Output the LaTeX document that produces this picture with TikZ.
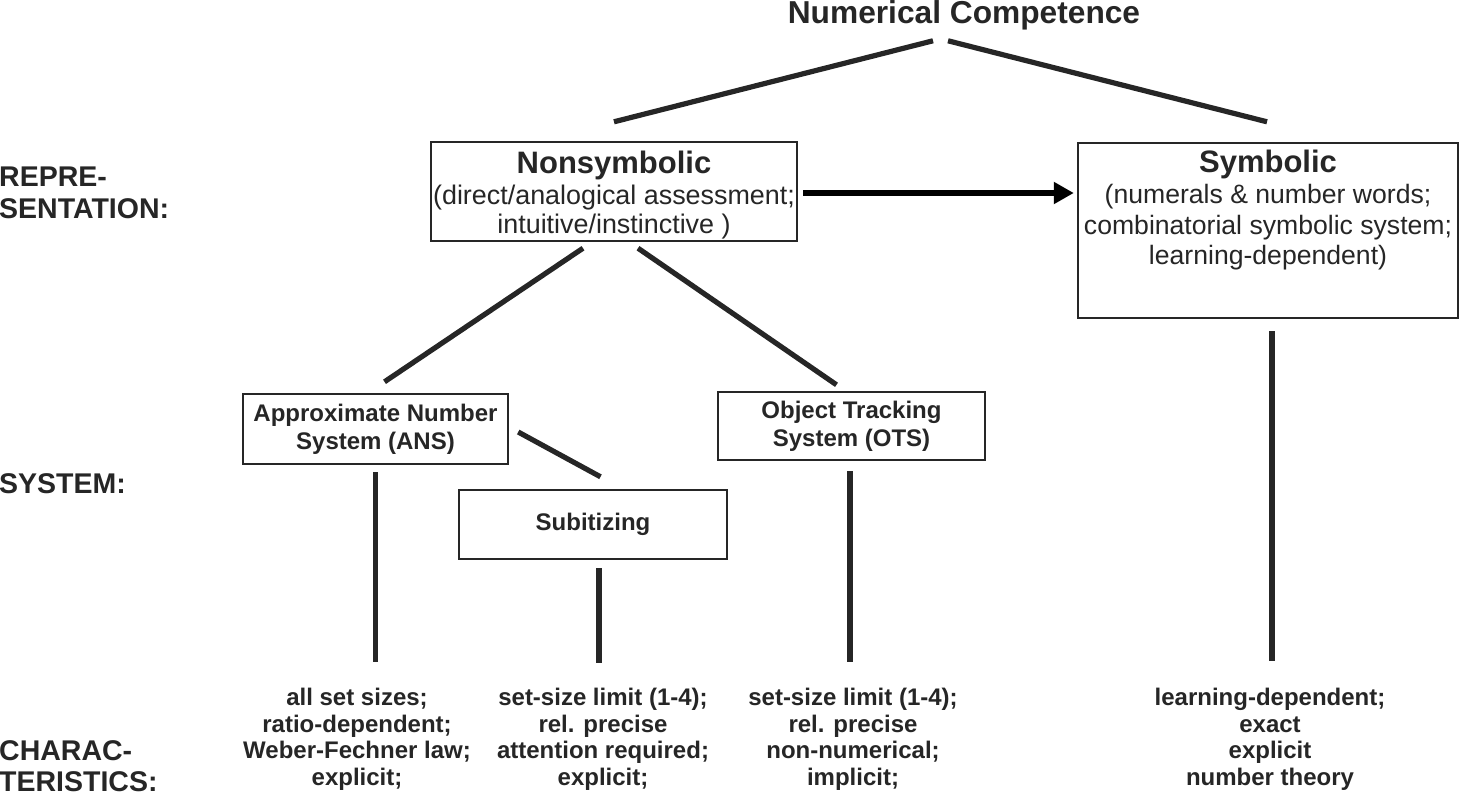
\documentclass[tikz,border=0pt]{standalone}
\usepackage{fontspec}
\setmainfont{Liberation Sans}
\usetikzlibrary{arrows.meta}
\definecolor{ink}{RGB}{38,38,38}
\newcommand\fsz[2]{\fontsize{#1}{#2}\selectfont}

\begin{document}
\begin{tikzpicture}[x=1pt,y=-1pt,
  box/.style={draw=ink,line width=2.4pt,fill=white,inner sep=0pt,align=center,text=ink},
  link/.style={draw=ink,line width=5.2pt},
  flow/.style={draw=black,line width=6.5pt,-{Triangle[length=20pt,width=21pt]}},
  rowlabel/.style={anchor=north west,inner sep=0pt,align=left,text=ink,font=\fsz{28.5}{31.5}\bfseries},
  chars/.style={anchor=north,inner sep=0pt,align=center,text=ink,font=\fsz{24}{26.5}\bfseries}]
\useasboundingbox (0,0) rectangle (1461,792);

% ---- row labels ----
\node[rowlabel] (lrep) at (-1,167) {REPRE-\\SENTATION:};
\node[rowlabel] (lsys) at (-1,473) {SYSTEM:};
\node[rowlabel] (lchar) at (-1,740) {CHARAC-\\TERISTICS:};

% ---- top level ----
\node[anchor=base,inner sep=0pt,text=ink,font=\fsz{31.7}{36}\bfseries] (title) at (964,24) {Numerical Competence};

\node[box,minimum width=366,minimum height=99,font=\fsz{26.9}{28.5}] (nonsym) at (614,191.5)
  {\rule{0pt}{29pt}{\fsz{31}{36}\bfseries Nonsymbolic}\\[3pt](direct/analogical assessment;\\intuitive/instinctive )};

\node[box,minimum width=380,minimum height=175] (sym) at (1268,230.5) {};
\node[anchor=north,inner sep=0pt,align=center,text=ink,font=\fsz{26.6}{30.5}] (symtext) at ([yshift=-8pt]sym.north)
  {{\fsz{31}{36}\bfseries Symbolic}\\[1pt](numerals \& number words;\\combinatorial symbolic system;\\learning-dependent)};

\draw[link] ([xshift=-31pt,yshift=-10pt]title.south) -- ([yshift=19pt]nonsym.north);
\draw[link] ([xshift=-16pt,yshift=-10pt]title.south) -- ([xshift=-1pt,yshift=20pt]sym.north);
\draw[flow,shorten <=5pt,shorten >=3pt] ([yshift=-1.5pt]nonsym.east) -- ([yshift=-1.5pt]nonsym.east -| sym.west);

% ---- systems ----
\node[box,minimum width=265,minimum height=70,font=\fsz{24}{28}\bfseries] (ans) at (375.5,429) {Approximate Number\\System (ANS)};
\node[box,minimum width=268,minimum height=69,font=\fsz{24}{28}\bfseries] (subit) at (593,524.5) {Subitizing};
\node[box,minimum width=267,minimum height=68,font=\fsz{24}{28}\bfseries] (ots) at (851.5,426) {Object Tracking\\System (OTS)};

\draw[link] ([xshift=-31pt,yshift=-6pt]nonsym.south) -- ([xshift=9pt,yshift=11pt]ans.north);
\draw[link] ([xshift=24pt,yshift=-6pt]nonsym.south) -- ([xshift=-15pt,yshift=6pt]ots.north);
\draw[link] ([xshift=9pt,yshift=-3pt]ans.east) -- ([xshift=7.5pt,yshift=12pt]subit.north);

% ---- characteristics ----
\node[chars] (chans) at (357,688) {all set sizes;\\ratio-dependent;\\Weber-Fechner law;\\explicit;};
\node[chars] (chsub) at (603,688) {set-size limit (1-4);\\rel. precise\\attention required;\\explicit;};
\node[chars] (chots) at (853,688) {set-size limit (1-4);\\rel. precise\\non-numerical;\\implicit;};
\node[chars] (chsym) at (1270,688) {learning-dependent;\\exact\\explicit\\number theory};

\draw[link] ([yshift=-7pt]ans.south) -- ([yshift=26pt]ans.south |- chans.north);
\draw[link] ([xshift=6pt,yshift=-8pt]subit.south) -- ([xshift=6pt,yshift=25pt]subit.south |- chsub.north);
\draw[link] ([xshift=-1.5pt,yshift=-10pt]ots.south) -- ([xshift=-1.5pt,yshift=26pt]ots.south |- chots.north);
\draw[link] ([xshift=4pt,yshift=-12pt]sym.south) -- ([xshift=4pt,yshift=27pt]sym.south |- chsym.north);
\end{tikzpicture}
\end{document}
